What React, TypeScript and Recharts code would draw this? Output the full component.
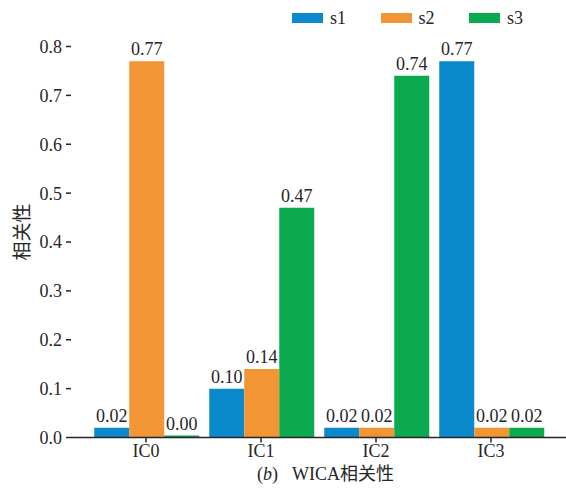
import { BarChart, Bar, XAxis, YAxis, LabelList } from "recharts";

// 各成分与源信号的相关性
const categories = ["IC0", "IC1", "IC2", "IC3"];
const seriesNames = ["s1", "s2", "s3"];
const s1 = [0.02, 0.1, 0.02, 0.77];
const s2 = [0.77, 0.14, 0.02, 0.02];
const s3 = [0.0, 0.47, 0.74, 0.02];
const yTicks = [0, 0.1, 0.2, 0.3, 0.4, 0.5, 0.6, 0.7, 0.8];

const colors = ["#0a89cc", "#f19535", "#0caa4f"];
const FONT = '"Liberation Serif", "Times New Roman", "Noto Sans CJK SC", serif';
const INK = "#262626";

const data = categories.map((name, i) => ({ name, s1: s1[i], s2: s2[i], s3: s3[i] }));

const fmt2 = (v: any) => Number(v).toFixed(2);

function XTitle(props: any) {
  const vb = props.viewBox;
  const cx = vb.x + vb.width / 2 + 7;
  return (
    <text x={cx} y={vb.y + 42} textAnchor="middle" fontFamily={FONT} fontSize={18} fill={INK}>
      <tspan>(</tspan>
      <tspan fontStyle="italic">b</tspan>
      <tspan>)</tspan>
      <tspan dx={14}>WICA相关性</tspan>
    </text>
  );
}

function YTitle(props: any) {
  const vb = props.viewBox;
  const x = vb.x + 22;
  const y = vb.y + vb.height / 2 - 10;
  return (
    <text
      x={x}
      y={y}
      transform={`rotate(-90, ${x}, ${y})`}
      textAnchor="middle"
      dominantBaseline="central"
      fontFamily={FONT}
      fontSize={19}
      fill={INK}
    >
      相关性
    </text>
  );
}

export default function App() {
  const series = [s1, s2, s3];
  return (
    <div style={{ position: "absolute", left: 0, top: 0, width: 566, height: 488, background: "#fff" }}>
      {/* 图例：右上角 */}
      <div
        style={{
          position: "absolute",
          left: 292,
          top: 8,
          height: 20,
          display: "flex",
          alignItems: "center",
          fontFamily: FONT,
          fontSize: 18,
          color: INK,
          zIndex: 1,
        }}
      >
        {seriesNames.map((n, i) => (
          <div key={n} style={{ width: 88.5, display: "flex", alignItems: "center" }}>
            <span style={{ display: "inline-block", width: 31, height: 10, background: colors[i], marginRight: 7 }} />
            <span>{n}</span>
          </div>
        ))}
      </div>
      <BarChart
        width={566}
        height={488}
        data={data}
        margin={{ top: 46.5, right: 0, bottom: 0, left: 0 }}
        barCategoryGap="5%"
        barGap={0}
      >
        <XAxis
          dataKey="name"
          height={50.5}
          padding={{ left: 17.5, right: 17.5 }}
          tickSize={5}
          tickMargin={2}
          axisLine={{ stroke: INK, strokeWidth: 1.5 }}
          tickLine={{ stroke: INK, strokeWidth: 1.5 }}
          tick={{ fontSize: 18, fill: INK, fontFamily: FONT }}
          label={XTitle}
        />
        <YAxis
          width={71}
          domain={[0, 0.8]}
          ticks={yTicks}
          interval={0}
          axisLine={false}
          tickSize={5}
          tickMargin={4}
          tickLine={{ stroke: INK, strokeWidth: 1.5 }}
          tick={{ fontSize: 18, fill: INK, fontFamily: FONT }}
          tickFormatter={(v: number) => v.toFixed(1)}
          label={YTitle}
        />
        {seriesNames.map((n, i) => (
          <Bar
            key={n}
            dataKey={n}
            fill={colors[i]}
            minPointSize={series[i].some((v) => v === 0) ? 2 : 0}
            isAnimationActive={false}
          >
            <LabelList
              dataKey={n}
              position="top"
              offset={6}
              formatter={fmt2}
              fill={INK}
              fontSize={18}
              fontFamily={FONT}
            />
          </Bar>
        ))}
      </BarChart>
    </div>
  );
}
